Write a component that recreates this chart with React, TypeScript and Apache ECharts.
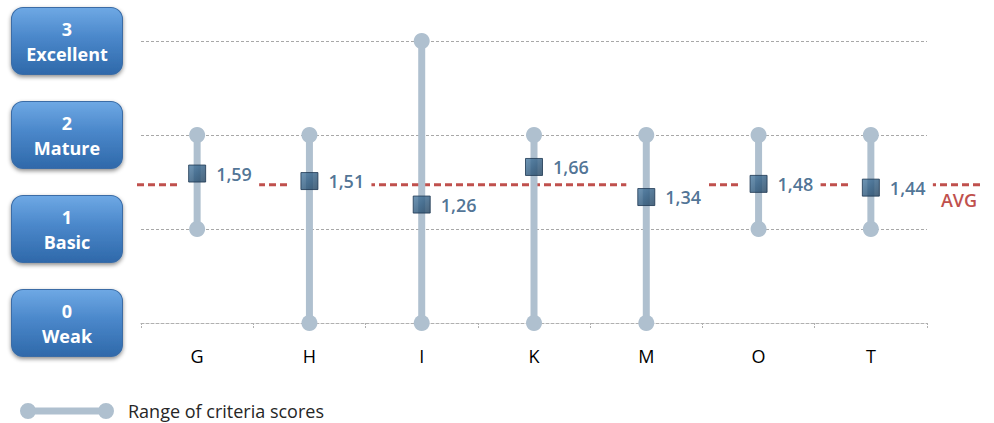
import React, { useEffect, useRef } from "react";
import * as echarts from "echarts";

const categories = ["G", "H", "I", "K", "M", "O", "T"];
const rangeLow = [1, 0, 0, 0, 0, 1, 1];
const rangeHigh = [2, 2, 3, 2, 2, 2, 2];
const avgScores = [1.59, 1.51, 1.26, 1.66, 1.34, 1.48, 1.44];
const overallAvg = 1.47;
const levelNames = ["Weak", "Basic", "Mature", "Excellent"];
const legendName = "Range of criteria scores";
const avgLabel = "AVG";

const RANGE_COLOR = "#afc0cf";
const FONT = "'Open Sans', 'Noto Sans', sans-serif";

export default function App() {
  const ref = useRef<HTMLDivElement>(null);

  useEffect(() => {
    if (!ref.current) return;
    const chart = echarts.init(ref.current, null, { renderer: "svg" });

    const boxGradient = new echarts.graphic.LinearGradient(0, 0, 0, 1, [
      { offset: 0, color: "#6ea8e4" },
      { offset: 0.45, color: "#4a87ca" },
      { offset: 1, color: "#2f69aa" },
    ]);
    const markerGradient = new echarts.graphic.LinearGradient(0, 0, 1, 1, [
      { offset: 0, color: "#4a7ba3" },
      { offset: 0.5, color: "#2f5b80" },
      { offset: 1, color: "#1e3f5c" },
    ]);

    const option: any = {
      animation: false,
      backgroundColor: "#ffffff",
      grid: [
        { left: 141, right: 67, top: 41, bottom: 100, containLabel: false },
        { left: 137, right: 11, top: 41, bottom: 100, containLabel: false },
      ],
      legend: {
        left: 20,
        top: 402,
        padding: 0,
        itemWidth: 94,
        itemHeight: 16,
        data: [
          {
            name: legendName,
            icon:
              "path://M0,8A8,8 0 1,1 16,8A8,8 0 1,1 0,8Z M78,8A8,8 0 1,1 94,8A8,8 0 1,1 78,8Z M8,4.5L86,4.5L86,11.5L8,11.5Z",
          },
        ],
        textStyle: {
          fontFamily: FONT,
          fontSize: 18,
          color: "#262626",
          padding: [0, 0, 0, 9],
        },
        selectedMode: false,
      },
      xAxis: [
        {
          type: "category",
          gridIndex: 0,
          data: categories,
          boundaryGap: true,
          axisLine: {
            show: true,
            lineStyle: { color: "#b0b0b0", width: 1, type: [3, 2] },
          },
          axisTick: {
            show: true,
            length: 6,
            lineStyle: { color: "#b0b0b0", width: 1, type: [2, 1] },
          },
          axisLabel: {
            margin: 24,
            fontFamily: FONT,
            fontSize: 18,
            color: "#000000",
          },
          splitLine: { show: false },
        },
        {
          type: "value",
          gridIndex: 1,
          min: 0,
          max: 1,
          show: false,
        },
      ],
      yAxis: [
        {
          type: "value",
          gridIndex: 0,
          min: 0,
          max: 3,
          interval: 1,
          axisLine: { show: false },
          axisTick: { show: false },
          splitLine: {
            show: true,
            lineStyle: { color: "#a8a8a8", width: 1, type: [3, 2] },
          },
          axisLabel: {
            margin: 74,
            align: "center",
            verticalAlign: "middle",
            formatter: (v: number) => `${v}\n${levelNames[v]}`,
            fontFamily: FONT,
            fontWeight: "bold",
            fontSize: 18,
            lineHeight: 25,
            color: "#ffffff",
            width: 110,
            padding: [8, 0, 8, 0],
            backgroundColor: boxGradient,
            borderColor: "#3a6ca6",
            borderWidth: 1,
            borderRadius: 11,
            shadowColor: "rgba(0,0,0,0.45)",
            shadowBlur: 4,
            shadowOffsetY: 2,
          },
        },
        {
          type: "value",
          gridIndex: 1,
          min: 0,
          max: 3,
          show: false,
        },
      ],
      series: [
        {
          name: "avg",
          type: "line",
          xAxisIndex: 1,
          yAxisIndex: 1,
          z: 1,
          silent: true,
          symbol: "circle",
          symbolSize: 0.01,
          showSymbol: true,
          lineStyle: { color: "#c0504d", width: 3, type: [7, 4] },
          itemStyle: { color: "#c0504d" },
          data: [
            { value: [0, overallAvg], label: { show: false } },
            {
              value: [1, overallAvg],
              label: {
                show: true,
                formatter: avgLabel,
                position: "bottom",
                distance: 4,
                offset: [-24, 2],
                fontFamily: FONT,
                fontWeight: 600,
                fontSize: 18,
                color: "#c0504d",
              },
            },
          ],
        },
        {
          name: "mask",
          type: "scatter",
          xAxisIndex: 0,
          yAxisIndex: 0,
          z: 2,
          silent: true,
          symbol: "rect",
          symbolSize: [82, 30],
          symbolOffset: [21, 0],
          itemStyle: { color: "#ffffff", opacity: 1 },
          data: avgScores,
        },
        {
          name: legendName,
          type: "custom",
          xAxisIndex: 0,
          yAxisIndex: 0,
          z: 3,
          itemStyle: { color: RANGE_COLOR },
          encode: { x: 0, y: [1, 2] },
          data: categories.map((_, i) => [i, rangeLow[i], rangeHigh[i]]),
          renderItem: (params: any, api: any) => {
            const x = api.value(0);
            const lo = api.coord([x, api.value(1)]);
            const hi = api.coord([x, api.value(2)]);
            return {
              type: "group",
              children: [
                {
                  type: "line",
                  shape: { x1: lo[0], y1: lo[1], x2: hi[0], y2: hi[1] },
                  style: { stroke: RANGE_COLOR, lineWidth: 7 },
                },
                {
                  type: "circle",
                  shape: { cx: lo[0], cy: lo[1], r: 8 },
                  style: { fill: RANGE_COLOR },
                },
                {
                  type: "circle",
                  shape: { cx: hi[0], cy: hi[1], r: 8 },
                  style: { fill: RANGE_COLOR },
                },
              ],
            };
          },
        },
        {
          name: "score",
          type: "scatter",
          xAxisIndex: 0,
          yAxisIndex: 0,
          z: 4,
          symbol: "rect",
          symbolSize: 17,
          itemStyle: {
            color: markerGradient,
            borderColor: "#1b3650",
            borderWidth: 1,
          },
          label: {
            show: true,
            position: "right",
            distance: 10,
            formatter: (p: any) => p.value.toFixed(2).replace(".", ","),
            fontFamily: FONT,
            fontWeight: 600,
            fontSize: 18,
            color: "#24507a",
          },
          data: avgScores,
        },
      ],
    };

    chart.setOption(option);
    return () => chart.dispose();
  }, []);

  return (
    <div
      ref={ref}
      style={{ position: "fixed", left: 0, top: 0, width: 994, height: 423 }}
    />
  );
}
